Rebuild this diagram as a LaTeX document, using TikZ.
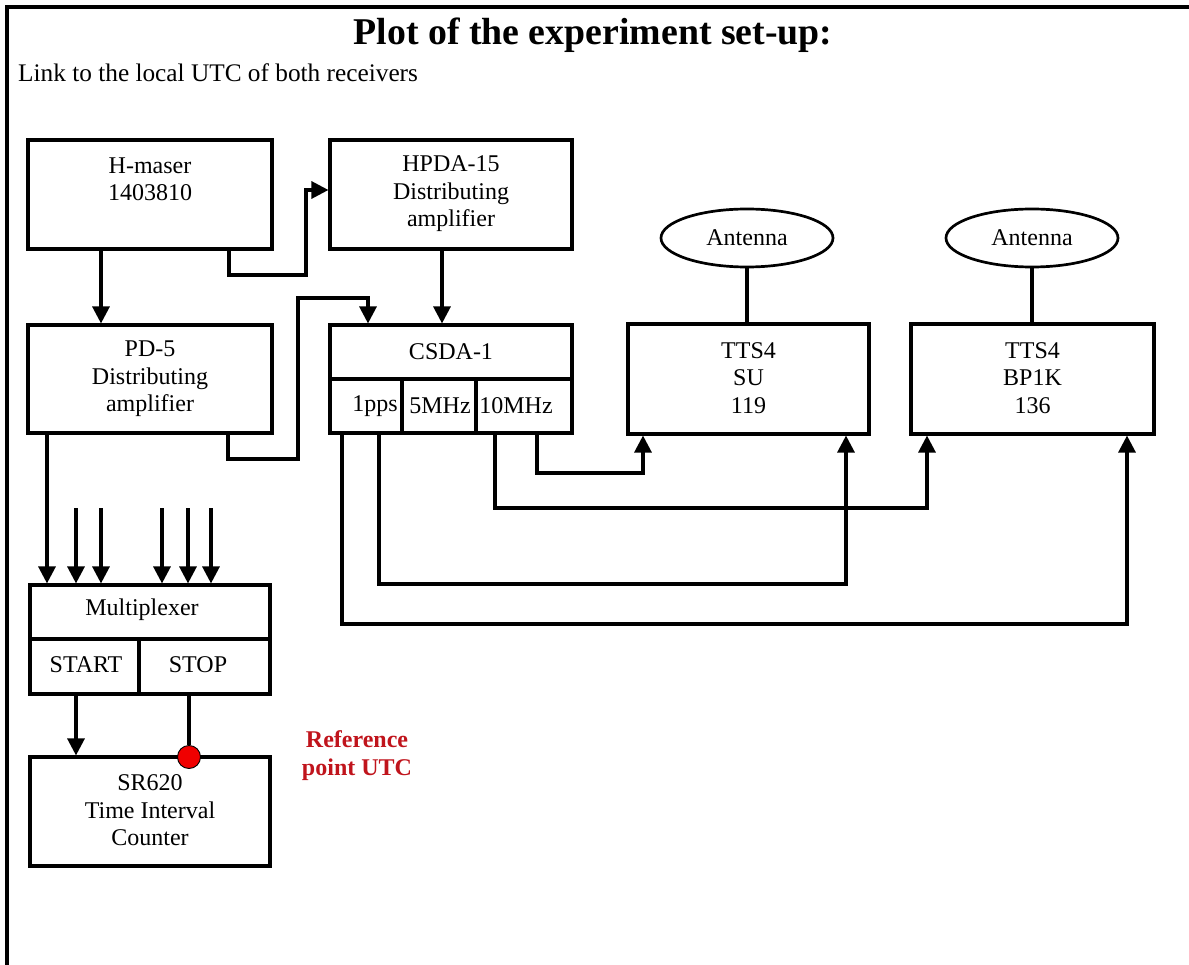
\documentclass[tikz,border=0pt]{standalone}
\usepackage{fontspec}
\setmainfont{Liberation Serif}
\usetikzlibrary{arrows.meta,shapes.geometric}
\definecolor{refred}{HTML}{C0141C}
\definecolor{dotred}{HTML}{F00000}
\begin{document}
\begin{tikzpicture}[x=1pt,y=-1pt,
  blk/.style={draw, line width=3.1pt, inner sep=0pt},
  lbl/.style={font=\fontsize{24}{27.5}\selectfont, align=center, inner sep=0pt},
  wire/.style={line width=3.1pt},
  arr/.style={line width=3.1pt, -{Triangle[width=17pt,length=17pt]}},
  ant/.style={draw, ellipse, line width=2.7pt, minimum width=172pt, minimum height=58pt, inner sep=0pt, font=\fontsize{24}{27.5}\selectfont}
]
\useasboundingbox (0,0) rectangle (1189,965);
% frame
\draw[line width=3.1pt] (7,965) -- (7,7) -- (1189,7);
% titles
\node[font=\bfseries\fontsize{37.8}{40}\selectfont, inner sep=0pt] (title) at (593,35.5) {Plot of the experiment set-up:};
\node[font=\fontsize{25.3}{30}\selectfont, inner sep=0pt, anchor=west] (sub) at (18,72.5) {Link to the local UTC of both receivers};

% boxes
\node[blk, minimum width=244pt, minimum height=109pt] (hm) at (150,194.5) {};
\node[lbl] (hmt) at (150,179.5) {H-maser\\1403810};
\node[blk, minimum width=242pt, minimum height=109pt] (hpda) at (451,194.5) {};
\node[lbl] (hpdat) at (451,194) {HPDA-15\\Distributing\\amplifier};
\node[blk, minimum width=244pt, minimum height=108pt] (pd5) at (150,379) {};
\node[lbl] (pd5t) at (150,379) {PD-5\\Distributing\\amplifier};
\node[blk, minimum width=242pt, minimum height=108pt] (csda) at (451,379) {};
\draw[wire] (csda.west |- 0,379) -- (csda.east |- 0,379);
\draw[wire] (402,379) -- (csda.south -| 402,0);
\draw[wire] (476,379) -- (csda.south -| 476,0);
\node[lbl] (csdat) at (451,352) {CSDA-1};
\node[lbl] (pps) at (375,406) {1pps};
\node[lbl] (five) at (440,406) {5MHz};
\node[lbl] (ten) at (516,406) {10MHz};
\node[blk, minimum width=241pt, minimum height=110pt] (su) at (748.5,379) {};
\node[lbl] (sut) at (748.5,378) {TTS4\\SU\\119};
\node[blk, minimum width=243pt, minimum height=110pt] (bp) at (1032.5,379) {};
\node[lbl] (bpt) at (1032.5,378) {TTS4\\BP1K\\136};
\node[ant] (a1) at (747,238) {Antenna};
\node[ant] (a2) at (1032,238) {Antenna};
\node[blk, minimum width=240pt, minimum height=109pt] (mux) at (150,639.5) {};
\draw[wire] (mux.west |- 0,639) -- (mux.east |- 0,639);
\draw[wire] (139,639) -- (mux.south -| 139,0);
\node[lbl] (muxt) at (142,610) {Multiplexer};
\node[lbl] (start) at (86,665) {START};
\node[lbl] (stop) at (198,665) {STOP};
\node[blk, minimum width=240pt, minimum height=109pt] (sr) at (150,811.5) {};
\node[lbl] (srt) at (150,810.5) {SR620\\Time Interval\\Counter};
\node[font=\bfseries\fontsize{24}{28}\selectfont, text=refred, align=center, inner sep=0pt] (ref) at (357,756) {Reference\\point UTC};

% connectors
\draw[arr] (hm.south -| 101,0) -- (pd5.north -| 101,0);
\draw[arr] (hm.south -| 229,0) -- (229,275) -- (306,275) -- (306,190) -- (hpda.west |- 0,190);
\draw[arr] (hpda.south -| 442,0) -- (csda.north -| 442,0);
\draw[arr] (pd5.south -| 228,0) -- (228,459) -- (298,459) -- (298,298) -- (368,298) -- (csda.north -| 368,0);
\draw[arr] (pd5.south -| 47,0) -- (mux.north -| 47,0);
\coordinate (i1) at (76,508);
\coordinate (i2) at (101,508);
\coordinate (i3) at (162,508);
\coordinate (i4) at (188,508);
\coordinate (i5) at (211,508);
\foreach \c in {i1,i2,i3,i4,i5} \draw[arr] (\c) -- (\c |- mux.north);
\draw[arr] (mux.south -| 76,0) -- (sr.north -| 76,0);
\node[circle, fill=dotred, draw=black, line width=0.9pt, minimum size=23pt, inner sep=0pt] (dot) at (189,757) {};
\draw[wire] (mux.south -| 189,0) -- (dot.north);
\draw[arr] (csda.south -| 537,0) -- (537,473) -- (643,473) -- (su.south -| 643,0);
\draw[arr] (csda.south -| 495,0) -- (495,508) -- (927,508) -- (bp.south -| 927,0);
\draw[arr] (csda.south -| 379,0) -- (379,584) -- (846,584) -- (su.south -| 846,0);
\draw[arr] (csda.south -| 342,0) -- (342,624) -- (1127,624) -- (bp.south -| 1127,0);
\draw[wire] (a1.south) -- (su.north -| a1.south);
\draw[wire] (a2.south) -- (bp.north -| a2.south);
\end{tikzpicture}
\end{document}
